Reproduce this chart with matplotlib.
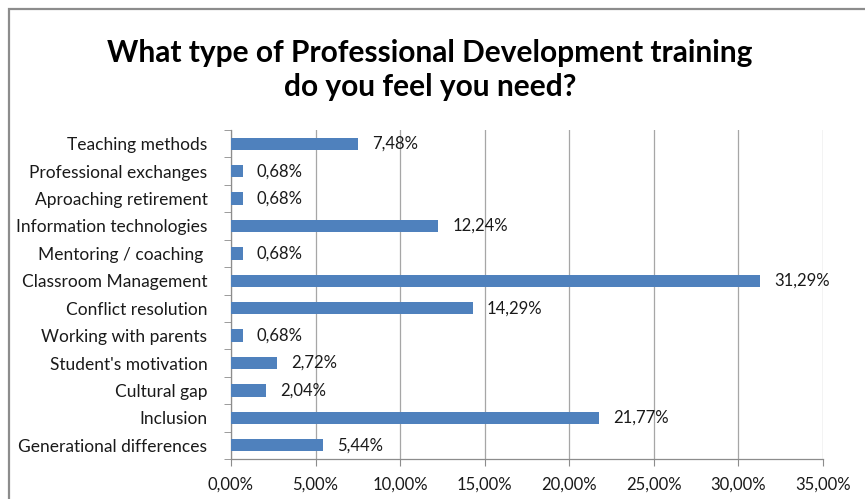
import matplotlib.pyplot as plt
from matplotlib.patches import Rectangle
from matplotlib.ticker import FixedLocator

categories = [
    "Teaching methods",
    "Professional exchanges",
    "Aproaching retirement",
    "Information technologies",
    "Mentoring / coaching ",
    "Classroom Management",
    "Conflict resolution",
    "Working with parents",
    "Student's motivation",
    "Cultural gap",
    "Inclusion",
    "Generational differences",
]
values = [7.48, 0.68, 0.68, 12.24, 0.68, 31.29, 14.29, 0.68, 2.72, 2.04, 21.77, 5.44]
x_ticks = [0, 5, 10, 15, 20, 25, 30, 35]

plt.rcParams['font.family'] = ['Lato', 'DejaVu Sans']

W, H = 865, 499
fig = plt.figure(figsize=(W / 100, H / 100), dpi=100)

# chart border (cropped at right and bottom like the source)
fig.patches.append(Rectangle((8.5 / W, -0.1), 1.2, 1 - 9.5 / H + 0.1,
                             transform=fig.transFigure, fill=False,
                             edgecolor='#8c8c8c', linewidth=1.6))

ax = fig.add_axes([231 / W, 1 - 459 / H, (823 - 231) / W, (459 - 130) / H])

# first category at the top
pos = list(range(len(categories)))[::-1]
ax.barh(pos, values, height=0.45, color='#4F81BD', zorder=3)

for p, v in zip(pos, values):
    ax.text(v + 0.85, p, f"{v:.2f}%".replace('.', ','), va='center', ha='left',
            fontsize=12, color='#1a1a1a', zorder=4)

ax.set_xlim(0, 35)
ax.set_ylim(-0.5, len(categories) - 0.5)
ax.set_xticks(x_ticks)
ax.set_xticklabels([f"{t:.2f}%".replace('.', ',') for t in x_ticks], fontsize=12, color='#1a1a1a')
ax.set_yticks(pos)
ax.set_yticklabels(categories, fontsize=12.5, color='#1a1a1a')
ax.yaxis.set_minor_locator(FixedLocator([k - 0.5 for k in range(len(categories) + 1)]))
ax.tick_params(axis='y', which='major', length=0, pad=17)
ax.tick_params(axis='y', which='minor', length=5, color='#8c8c8c', direction='out')
ax.tick_params(axis='x', length=5, color='#8c8c8c', pad=8)

ax.grid(axis='x', color='#a6a6a6', linewidth=0.9, zorder=0)
for s in ['top', 'right']:
    ax.spines[s].set_visible(False)
for s in ['left', 'bottom']:
    ax.spines[s].set_color('#8c8c8c')
    ax.spines[s].set_linewidth(0.9)

fig.text(430 / W, 1 - 70 / H, "What type of Professional Development training\ndo you feel you need?",
         ha='center', va='center', fontsize=21.5, fontweight='bold', linespacing=1.3)

fig.savefig('out.png', dpi=100)
